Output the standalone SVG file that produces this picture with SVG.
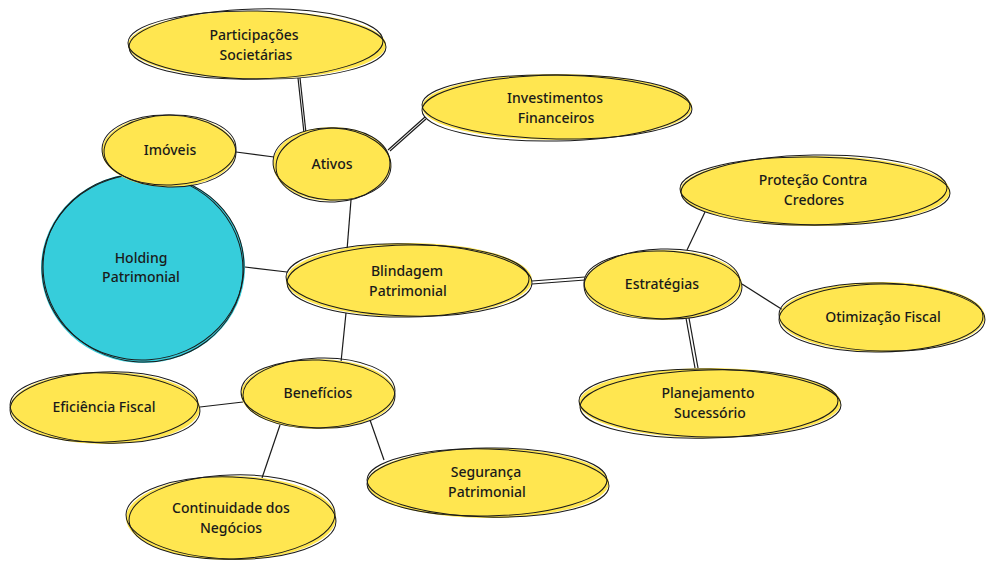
<svg xmlns="http://www.w3.org/2000/svg" width="995" height="573" viewBox="0 0 995 573">
<style>
.y{fill:#FFE650;stroke:none}
.c{fill:#36CDDB;stroke:none}
.s{fill:none;stroke:#1a1a1a;stroke-width:1}
.e line{stroke:#1a1a1a;stroke-width:1.2}
text{font-family:"Noto Sans","Open Sans",sans-serif;font-size:14px;font-weight:500;fill:#1a1a1a;text-anchor:middle}
</style>
<rect width="995" height="573" fill="#ffffff"/>
<g id="edges" class="e">
<line x1="298" y1="78" x2="304" y2="133"/><line x1="300" y1="78" x2="306" y2="133"/>
<line x1="236" y1="152" x2="274" y2="157"/>
<line x1="388" y1="150" x2="425" y2="117"/><line x1="390" y1="151" x2="426" y2="119"/>
<line x1="351" y1="200" x2="347" y2="250"/>
<line x1="245" y1="267" x2="287" y2="272"/>
<line x1="532" y1="281" x2="585" y2="277"/><line x1="532" y1="284" x2="585" y2="280"/>
<line x1="687" y1="250" x2="705" y2="212"/>
<line x1="742" y1="284" x2="783" y2="310"/>
<line x1="686" y1="318" x2="695" y2="368"/><line x1="689" y1="318" x2="698" y2="368"/>
<line x1="346" y1="313" x2="341" y2="362"/>
<line x1="243" y1="402" x2="200" y2="407"/>
<line x1="280" y1="425" x2="262" y2="478"/>
<line x1="370" y1="420" x2="384" y2="460"/>
</g>
<g id="holding">
<ellipse class="c" cx="143" cy="268" rx="102" ry="95"/>
<ellipse class="s" cx="143" cy="268" rx="100" ry="94" transform="rotate(6 143 268)"/>
<ellipse class="s" cx="143" cy="267" rx="101" ry="93" transform="rotate(-4 143 267)"/>
<text x="141" y="263">Holding</text><text x="141" y="282">Patrimonial</text>
</g>
<g id="participacoes">
<ellipse class="y" cx="257" cy="45" rx="129" ry="34"/>
<ellipse class="s" cx="257" cy="45" rx="129" ry="34" transform="rotate(1 257 45)"/>
<ellipse class="s" cx="256" cy="44" rx="127" ry="35" transform="rotate(-1.5 256 44)"/>
<text x="254" y="40">Participações</text><text x="256" y="60">Societárias</text>
</g>
<g id="imoveis">
<ellipse class="y" cx="169" cy="151" rx="67" ry="36"/>
<ellipse class="s" cx="169" cy="151" rx="67" ry="36" transform="rotate(2 169 151)"/>
<ellipse class="s" cx="170" cy="150" rx="66" ry="35" transform="rotate(-2 170 150)"/>
<text x="170" y="155">Imóveis</text>
</g>
<g id="ativos">
<ellipse class="y" cx="332" cy="164" rx="59" ry="37"/>
<ellipse class="s" cx="332" cy="164" rx="59" ry="36" transform="rotate(3 332 164)"/>
<ellipse class="s" cx="333" cy="165" rx="57" ry="37" transform="rotate(-3 333 165)"/>
<text x="332" y="169">Ativos</text>
</g>
<g id="investimentos">
<ellipse class="y" cx="557" cy="107" rx="135" ry="33"/>
<ellipse class="s" cx="557" cy="107" rx="135" ry="32" transform="rotate(1 557 107)"/>
<ellipse class="s" cx="556" cy="108" rx="134" ry="33" transform="rotate(-1 556 108)"/>
<text x="555" y="103">Investimentos</text><text x="556" y="123">Financeiros</text>
</g>
<g id="blindagem">
<ellipse class="y" cx="409" cy="280" rx="123" ry="37"/>
<ellipse class="s" cx="409" cy="280" rx="123" ry="36" transform="rotate(1.5 409 280)"/>
<ellipse class="s" cx="408" cy="281" rx="121" ry="36" transform="rotate(-1 408 281)"/>
<text x="407" y="276">Blindagem</text><text x="408" y="296">Patrimonial</text>
</g>
<g id="estrategias">
<ellipse class="y" cx="663" cy="285" rx="79" ry="35"/>
<ellipse class="s" cx="663" cy="285" rx="79" ry="34" transform="rotate(2 663 285)"/>
<ellipse class="s" cx="662" cy="284" rx="78" ry="35" transform="rotate(-2 662 284)"/>
<text x="662" y="289">Estratégias</text>
</g>
<g id="protecao">
<ellipse class="y" cx="815" cy="191" rx="135" ry="35"/>
<ellipse class="s" cx="815" cy="191" rx="135" ry="34" transform="rotate(1 815 191)"/>
<ellipse class="s" cx="814" cy="190" rx="133" ry="35" transform="rotate(-1 814 190)"/>
<text x="813" y="185">Proteção Contra</text><text x="814" y="205">Credores</text>
</g>
<g id="otimizacao">
<ellipse class="y" cx="882" cy="317" rx="103" ry="35"/>
<ellipse class="s" cx="882" cy="317" rx="103" ry="34" transform="rotate(1.5 882 317)"/>
<ellipse class="s" cx="881" cy="318" rx="102" ry="34" transform="rotate(-1 881 318)"/>
<text x="883" y="322">Otimização Fiscal</text>
</g>
<g id="planejamento">
<ellipse class="y" cx="710" cy="403" rx="131" ry="35"/>
<ellipse class="s" cx="710" cy="403" rx="131" ry="34" transform="rotate(1 710 403)"/>
<ellipse class="s" cx="709" cy="404" rx="129" ry="34" transform="rotate(-1.5 709 404)"/>
<text x="708" y="398">Planejamento</text><text x="710" y="418">Sucessório</text>
</g>
<g id="beneficios">
<ellipse class="y" cx="318" cy="394" rx="77" ry="35"/>
<ellipse class="s" cx="318" cy="394" rx="77" ry="34" transform="rotate(2 318 394)"/>
<ellipse class="s" cx="319" cy="393" rx="76" ry="35" transform="rotate(-2 319 393)"/>
<text x="318" y="398">Benefícios</text>
</g>
<g id="eficiencia">
<ellipse class="y" cx="105" cy="408" rx="95" ry="36"/>
<ellipse class="s" cx="105" cy="408" rx="95" ry="35" transform="rotate(2 105 408)"/>
<ellipse class="s" cx="104" cy="407" rx="94" ry="35" transform="rotate(-2 104 407)"/>
<text x="104" y="412">Eficiência Fiscal</text>
</g>
<g id="continuidade">
<ellipse class="y" cx="231" cy="518" rx="105" ry="42"/>
<ellipse class="s" cx="231" cy="518" rx="105" ry="41" transform="rotate(2 231 518)"/>
<ellipse class="s" cx="232" cy="517" rx="103" ry="42" transform="rotate(-2 232 517)"/>
<text x="231" y="513">Continuidade dos</text><text x="231" y="533">Negócios</text>
</g>
<g id="seguranca">
<ellipse class="y" cx="488" cy="483" rx="121" ry="35"/>
<ellipse class="s" cx="488" cy="483" rx="121" ry="34" transform="rotate(1.5 488 483)"/>
<ellipse class="s" cx="487" cy="482" rx="120" ry="34" transform="rotate(-1 487 482)"/>
<text x="486" y="477">Segurança</text><text x="487" y="497">Patrimonial</text>
</g>
</svg>
